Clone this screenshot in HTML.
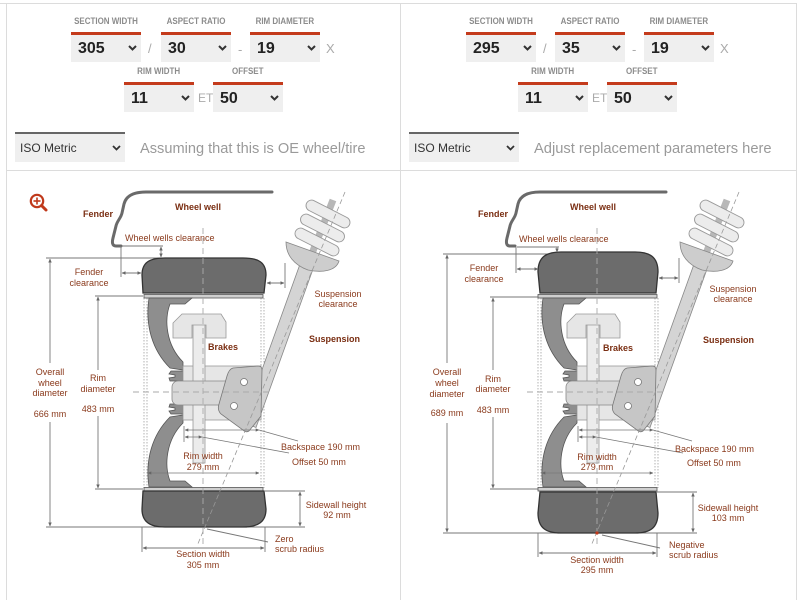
<!DOCTYPE html>
<html><head><meta charset="utf-8">
<style>
html,body{margin:0;padding:0;background:#fff;}
body{width:800px;height:600px;position:relative;overflow:hidden;font-family:"Liberation Sans",sans-serif;}
.lbl{position:absolute;width:100px;height:11px;line-height:11px;text-align:center;font-weight:bold;font-size:9.5px;color:#8c8c8c;white-space:nowrap;}
.lbl span{display:inline-block;transform:scaleX(.84);}
.sel{position:absolute;width:70px;height:27px;background:#efefef;border-top:3px solid #c43b1c;}
.sel b{position:absolute;left:7px;top:0;line-height:27px;font-size:16px;font-weight:bold;color:#222;}
.sel svg{position:absolute;left:57px;top:10px;}
.sep{position:absolute;height:27px;line-height:27px;font-size:13px;color:#aaa;}
.iso{position:absolute;top:132px;width:110px;height:28px;background:#efefef;border-top:2px solid #666;}
.iso span{position:absolute;left:5px;top:0;line-height:28px;font-size:12px;color:#333;}
.iso svg{position:absolute;left:97px;top:11px;}
.hint{position:absolute;top:140px;line-height:18px;color:#9a9a9a;white-space:nowrap;}
</style></head><body>

<!-- LEFT FORM -->
<div class="lbl" style="left:56px;top:16px"><span>SECTION WIDTH</span></div>
<div class="lbl" style="left:146px;top:16px"><span>ASPECT RATIO</span></div>
<div class="lbl" style="left:235px;top:16px"><span>RIM DIAMETER</span></div>
<div class="sel" style="left:71px;top:32px"><b>305</b><svg width="9" height="6"><polyline points="1,1 4.5,4.5 8,1" fill="none" stroke="#333" stroke-width="2"/></svg></div>
<div class="sep" style="left:148px;top:35px">/</div>
<div class="sel" style="left:161px;top:32px"><b>30</b><svg width="9" height="6"><polyline points="1,1 4.5,4.5 8,1" fill="none" stroke="#333" stroke-width="2"/></svg></div>
<div class="sep" style="left:238px;top:36px">-</div>
<div class="sel" style="left:250px;top:32px"><b>19</b><svg width="9" height="6"><polyline points="1,1 4.5,4.5 8,1" fill="none" stroke="#333" stroke-width="2"/></svg></div>
<div class="sep" style="left:326px;top:35px">X</div>
<div class="lbl" style="left:109px;top:66px"><span>RIM WIDTH</span></div>
<div class="lbl" style="left:198px;top:66px"><span>OFFSET</span></div>
<div class="sel" style="left:124px;top:82px"><b>11</b><svg width="9" height="6"><polyline points="1,1 4.5,4.5 8,1" fill="none" stroke="#333" stroke-width="2"/></svg></div>
<div class="sep" style="left:198px;top:85px;font-size:12px">ET</div>
<div class="sel" style="left:213px;top:82px"><b>50</b><svg width="9" height="6"><polyline points="1,1 4.5,4.5 8,1" fill="none" stroke="#333" stroke-width="2"/></svg></div>
<div class="iso" style="left:15px"><span>ISO Metric</span><svg width="9" height="6"><polyline points="1,1 4.5,4.5 8,1" fill="none" stroke="#333" stroke-width="1.8"/></svg></div>
<div class="hint" style="left:140px;font-size:14.6px">Assuming that this is OE wheel/tire</div>

<!-- RIGHT FORM -->
<div class="lbl" style="left:451px;top:16px"><span>SECTION WIDTH</span></div>
<div class="lbl" style="left:540px;top:16px"><span>ASPECT RATIO</span></div>
<div class="lbl" style="left:629px;top:16px"><span>RIM DIAMETER</span></div>
<div class="sel" style="left:466px;top:32px"><b>295</b><svg width="9" height="6"><polyline points="1,1 4.5,4.5 8,1" fill="none" stroke="#333" stroke-width="2"/></svg></div>
<div class="sep" style="left:543px;top:35px">/</div>
<div class="sel" style="left:555px;top:32px"><b>35</b><svg width="9" height="6"><polyline points="1,1 4.5,4.5 8,1" fill="none" stroke="#333" stroke-width="2"/></svg></div>
<div class="sep" style="left:632px;top:36px">-</div>
<div class="sel" style="left:644px;top:32px"><b>19</b><svg width="9" height="6"><polyline points="1,1 4.5,4.5 8,1" fill="none" stroke="#333" stroke-width="2"/></svg></div>
<div class="sep" style="left:720px;top:35px">X</div>
<div class="lbl" style="left:503px;top:66px"><span>RIM WIDTH</span></div>
<div class="lbl" style="left:592px;top:66px"><span>OFFSET</span></div>
<div class="sel" style="left:518px;top:82px"><b>11</b><svg width="9" height="6"><polyline points="1,1 4.5,4.5 8,1" fill="none" stroke="#333" stroke-width="2"/></svg></div>
<div class="sep" style="left:592px;top:85px;font-size:12px">ET</div>
<div class="sel" style="left:607px;top:82px"><b>50</b><svg width="9" height="6"><polyline points="1,1 4.5,4.5 8,1" fill="none" stroke="#333" stroke-width="2"/></svg></div>
<div class="iso" style="left:409px"><span>ISO Metric</span><svg width="9" height="6"><polyline points="1,1 4.5,4.5 8,1" fill="none" stroke="#333" stroke-width="1.8"/></svg></div>
<div class="hint" style="left:534px;font-size:14.7px">Adjust replacement parameters here</div>

<svg width="800" height="600" style="position:absolute;left:0;top:0" xmlns="http://www.w3.org/2000/svg">
<defs>
<marker id="ar" viewBox="0 0 6 6" refX="5.5" refY="3" markerWidth="4.5" markerHeight="4.5" orient="auto-start-reverse"><path d="M0,0.3 L6,3 L0,5.7z" fill="#666"/></marker>
<g id="rigA">
 <g stroke="#a0a0a0" stroke-width="0.8" stroke-dasharray="1.5 1.5">
  <line x1="144" y1="298" x2="144" y2="488"/>
  <line x1="147" y1="298" x2="147" y2="488"/>
  <line x1="261" y1="298" x2="261" y2="488"/>
  <line x1="264" y1="298" x2="264" y2="488"/>
 </g>
 <rect x="144" y="294.5" width="119" height="3.5" fill="#cfcfcf" stroke="#555" stroke-width="0.8"/>
 <rect x="144" y="487.5" width="119" height="3.5" fill="#cfcfcf" stroke="#555" stroke-width="0.8"/>
 <g fill="#8e8e8e" stroke="#555" stroke-width="0.8">
  <path d="M149 298 L192 298 L185 304 L170 304 C164 320 166 345 183 362 L183 370 L170 368 C152 350 145 325 149 298Z"/>
  <path d="M149 487 L192 487 L185 481 L170 481 C164 465 166 440 183 423 L183 415 L170 417 C152 435 145 460 149 487Z"/>
  <path d="M183 371 L171 371 L169 374 L175 375 L175 377 L169 378 L170 381 L183 381Z"/>
  <path d="M183 404 L170 404 L169 407 L175 408 L175 410 L169 411 L171 414 L183 414Z"/>
 </g>
 <rect x="183" y="366" width="78" height="54" fill="#e6e6e6" stroke="#999" stroke-width="0.8"/>
 <rect x="193" y="324" width="12" height="139" fill="#ececec" stroke="#999" stroke-width="0.8"/>
 <rect x="172" y="381" width="90" height="24" rx="6" fill="#d8d8d8" stroke="#888" stroke-width="0.8"/>
 <polygon points="173,323 182,314 221,314 226,322 226,338 206,338 206,325 192,325 192,338 173,338" fill="#e6e6e6" stroke="#999" stroke-width="0.8"/>
 <polygon points="317,258 304,253 243,422.5 256,427.5" fill="#d4d4d4" stroke="#888" stroke-width="0.8"/>
 <line x1="333" y1="200" x2="311" y2="256" stroke="#b8b8b8" stroke-width="7"/>
 <g fill="#ececec" stroke="#999" stroke-width="0.9">
  <rect x="-24" y="-5.5" width="48" height="11" rx="5.5" transform="translate(328,214) rotate(27)"/>
  <rect x="-24" y="-5.5" width="48" height="11" rx="5.5" transform="translate(322.5,228) rotate(27)"/>
  <rect x="-24" y="-5.5" width="48" height="11" rx="5.5" transform="translate(317,242) rotate(27)"/>
 </g>
 <path d="M286 242 L339 261 C336 271 322 273 308 270 C294 265 286 255 286 242Z" fill="#cdcdcd" stroke="#888" stroke-width="0.8"/>
 <path d="M233 368 L258 366 Q262 366 262 370 L261 416 L249 431 Q246 433 243 430 L221 414 Q217 410 219 404 L227 376 Q229 369 233 368Z" fill="#c6c6c6" stroke="#777" stroke-width="0.8"/>
 <circle cx="244" cy="382" r="3.5" fill="#fff" stroke="#777" stroke-width="0.8"/>
 <circle cx="234" cy="406" r="3.5" fill="#fff" stroke="#777" stroke-width="0.8"/>
 <path d="M121 246 L116 246 C112 246 112 242 113 238 L116 226 C117 221 121 218 122 213 L124 204 C126 196 133 192 146 192 L272 192" fill="none" stroke="#6a6a6a" stroke-width="3" stroke-linecap="round" stroke-linejoin="round"/>
 <g stroke="#777" stroke-width="0.8" fill="none">
  <line x1="184" y1="426" x2="184" y2="442"/>
  <line x1="185" y1="430" x2="259" y2="430" marker-start="url(#ar)" marker-end="url(#ar)"/>
  <line x1="185" y1="437" x2="202" y2="437" marker-start="url(#ar)" marker-end="url(#ar)"/>
  <line x1="259" y1="430" x2="298" y2="441"/>
  <line x1="202" y1="437" x2="289" y2="453"/>
  <line x1="148" y1="473" x2="259" y2="473" marker-start="url(#ar)" marker-end="url(#ar)"/>
 </g>
</g>
<g id="rigB">
 <line x1="203" y1="228" x2="203" y2="546" stroke="#aaa" stroke-width="0.9" stroke-dasharray="6 4"/>
 <line x1="133" y1="392" x2="272" y2="392" stroke="#aaa" stroke-width="0.9" stroke-dasharray="6 4"/>
 <line x1="345" y1="192" x2="197" y2="546" stroke="#999" stroke-width="0.8" stroke-dasharray="5 3"/>
</g>
</defs>

<!-- frame -->
<g stroke="#dcdcdc" stroke-width="1">
 <line x1="0" y1="3.5" x2="796" y2="3.5"/>
 <line x1="6.5" y1="3" x2="6.5" y2="600"/>
 <line x1="400.5" y1="3" x2="400.5" y2="600"/>
 <line x1="796.5" y1="3" x2="796.5" y2="600"/>
 <line x1="6" y1="170.5" x2="796" y2="170.5"/>
</g>

<!-- magnifier -->
<g stroke="#c0391b" fill="none">
 <circle cx="37" cy="201" r="6.2" stroke-width="2.2"/>
 <line x1="37" y1="197.5" x2="37" y2="204.5" stroke-width="1.6"/>
 <line x1="33.5" y1="201" x2="40.5" y2="201" stroke-width="1.6"/>
 <line x1="41.5" y1="205.5" x2="46" y2="210" stroke-width="3" stroke-linecap="round"/>
</g>

<!-- LEFT DIAGRAM -->
<g stroke="#777" stroke-width="0.9" fill="none">
 <line x1="46" y1="258" x2="200" y2="258"/>
 <line x1="46" y1="527" x2="305" y2="527"/>
 <line x1="95" y1="296" x2="143" y2="296"/>
 <line x1="95" y1="489" x2="143" y2="489"/>
</g>
<use href="#rigA"/>
<path d="M143 293 L142 275 C142 262 150 258 165 258 L243 258 C258 258 266 262 266 275 L264 293 Z" fill="#6c6c6c" stroke="#333" stroke-width="1.3"/>
<path d="M143 491 L264 491 L266 509 C266 522 258 527 243 527 L165 527 C150 527 142 522 142 509 Z" fill="#6c6c6c" stroke="#333" stroke-width="1.3"/>
<use href="#rigB"/>
<g stroke="#777" stroke-width="0.9" fill="none">
 <line x1="50" y1="363" x2="50" y2="259" marker-end="url(#ar)"/>
 <line x1="50" y1="422" x2="50" y2="526" marker-end="url(#ar)"/>
 <line x1="98" y1="370" x2="98" y2="297" marker-end="url(#ar)"/>
 <line x1="98" y1="416" x2="98" y2="488" marker-end="url(#ar)"/>
 <line x1="122" y1="246" x2="163" y2="246"/>
 <line x1="161" y1="247" x2="161" y2="257" marker-start="url(#ar)" marker-end="url(#ar)"/>
 <line x1="121" y1="246" x2="121" y2="277"/>
 <line x1="122" y1="273" x2="141" y2="273" marker-start="url(#ar)" marker-end="url(#ar)"/>
 <line x1="285" y1="263" x2="285" y2="288"/>
 <line x1="267" y1="283" x2="284" y2="283" marker-start="url(#ar)" marker-end="url(#ar)"/>
 <line x1="264" y1="491" x2="305" y2="491"/>
 <line x1="300" y1="492" x2="300" y2="526" marker-start="url(#ar)" marker-end="url(#ar)"/>
 <line x1="142" y1="527" x2="142" y2="552"/>
 <line x1="265" y1="527" x2="265" y2="552"/>
 <line x1="143" y1="548" x2="264" y2="548" marker-start="url(#ar)" marker-end="url(#ar)"/>
 <line x1="207" y1="529" x2="268" y2="542"/>
</g>

<!-- RIGHT DIAGRAM -->
<g stroke="#777" stroke-width="0.9" fill="none">
 <line x1="443" y1="254" x2="600" y2="254"/>
 <line x1="443" y1="533" x2="697" y2="533"/>
 <line x1="490" y1="297" x2="538" y2="297"/>
 <line x1="490" y1="489" x2="538" y2="489"/>
</g>
<use href="#rigA" transform="translate(394,0)"/>
<path d="M540 293 L538 272 C538 257 546 252 561 252 L635 252 C650 252 658 257 658 272 L656 293 Z" fill="#6c6c6c" stroke="#333" stroke-width="1.3"/>
<path d="M540 492 L656 492 L658 513 C658 528 650 533 635 533 L561 533 C546 533 538 528 538 513 Z" fill="#6c6c6c" stroke="#333" stroke-width="1.3"/>
<use href="#rigB" transform="translate(394,0)"/>
<g stroke="#777" stroke-width="0.9" fill="none">
 <line x1="447" y1="363" x2="447" y2="255" marker-end="url(#ar)"/>
 <line x1="447" y1="423" x2="447" y2="532" marker-end="url(#ar)"/>
 <line x1="493" y1="370" x2="493" y2="298" marker-end="url(#ar)"/>
 <line x1="493" y1="417" x2="493" y2="488" marker-end="url(#ar)"/>
 <line x1="517" y1="247" x2="559" y2="247"/>
 <line x1="557" y1="247" x2="557" y2="252" marker-end="url(#ar)"/>
 <line x1="516" y1="247" x2="516" y2="273"/>
 <line x1="517" y1="269" x2="538" y2="269" marker-start="url(#ar)" marker-end="url(#ar)"/>
 <line x1="679" y1="258" x2="679" y2="283"/>
 <line x1="659" y1="278" x2="678" y2="278" marker-start="url(#ar)" marker-end="url(#ar)"/>
 <line x1="657" y1="492" x2="697" y2="492"/>
 <line x1="693" y1="493" x2="693" y2="532" marker-start="url(#ar)" marker-end="url(#ar)"/>
 <line x1="538" y1="533" x2="538" y2="557"/>
 <line x1="657" y1="533" x2="657" y2="557"/>
 <line x1="539" y1="553" x2="656" y2="553" marker-start="url(#ar)" marker-end="url(#ar)"/>
 <line x1="602" y1="535" x2="660" y2="548"/>
</g>
<circle cx="597" cy="533" r="1.6" fill="#c0391b"/>

<!-- TEXT -->
<g font-family="'Liberation Sans',sans-serif" font-size="9" fill="#8a3a1c">
 <g font-weight="bold" fill="#7a2e12">
  <text x="83" y="217">Fender</text>
  <text x="175" y="210">Wheel well</text>
  <text x="309" y="342">Suspension</text>
  <text x="208" y="350">Brakes</text>
  <text x="478" y="217">Fender</text>
  <text x="570" y="210">Wheel well</text>
  <text x="703" y="343">Suspension</text>
  <text x="603" y="351">Brakes</text>
 </g>
 <text x="125" y="241">Wheel wells clearance</text>
 <g text-anchor="middle">
  <text x="89" y="275">Fender</text><text x="89" y="286">clearance</text>
  <text x="338" y="297">Suspension</text><text x="338" y="307">clearance</text>
  <text x="50" y="375">Overall</text><text x="50" y="386">wheel</text><text x="50" y="396">diameter</text><text x="50" y="417">666 mm</text>
  <text x="98" y="381">Rim</text><text x="98" y="392">diameter</text><text x="98" y="412">483 mm</text>
  <text x="203" y="459">Rim width</text><text x="203" y="470">279 mm</text>
  <text x="336" y="508">Sidewall height</text><text x="337" y="518">92 mm</text>
  <text x="203" y="557">Section width</text><text x="203" y="568">305 mm</text>
 </g>
 <text x="281" y="450">Backspace 190 mm</text>
 <text x="292" y="465">Offset 50 mm</text>
 <text x="275" y="542">Zero</text>
 <text x="275" y="552">scrub radius</text>

 <text x="519" y="242">Wheel wells clearance</text>
 <g text-anchor="middle">
  <text x="484" y="271">Fender</text><text x="484" y="282">clearance</text>
  <text x="733" y="292">Suspension</text><text x="733" y="302">clearance</text>
  <text x="447" y="375">Overall</text><text x="447" y="386">wheel</text><text x="447" y="397">diameter</text><text x="447" y="416">689 mm</text>
  <text x="493" y="382">Rim</text><text x="493" y="392">diameter</text><text x="493" y="413">483 mm</text>
  <text x="597" y="460">Rim width</text><text x="597" y="470">279 mm</text>
  <text x="728" y="511">Sidewall height</text><text x="728" y="521">103 mm</text>
  <text x="597" y="563">Section width</text><text x="597" y="573">295 mm</text>
 </g>
 <text x="675" y="452">Backspace 190 mm</text>
 <text x="687" y="466">Offset 50 mm</text>
 <text x="669" y="548">Negative</text>
 <text x="669" y="558">scrub radius</text>
</g>
</svg>
</body></html>
